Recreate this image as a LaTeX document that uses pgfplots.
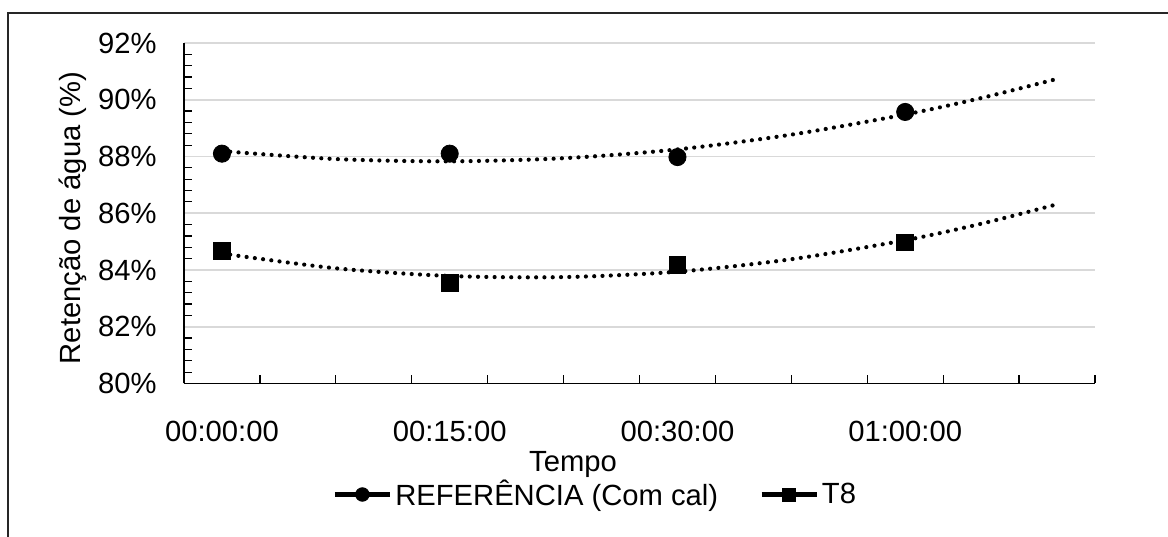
\documentclass[border=0pt]{standalone}
\usepackage{fontspec}
\setmainfont{Liberation Sans}
\usepackage{pgfplots}
\pgfplotsset{compat=1.18}
\definecolor{gridgray}{RGB}{217,217,217}
\newcommand{\chartfont}{\fontsize{14.6}{17.5}\selectfont}
\begin{document}
\begin{tikzpicture}[font=\chartfont]
\useasboundingbox (0,0) rectangle (584pt,268pt);
\draw[line width=0.8pt, black!85] (4pt,-10pt) -- (4pt,261.5pt) -- (600pt,261.5pt);
\begin{axis}[
  scale only axis,
  width=455.5pt, height=170.25pt,
  at={(92pt,76.25pt)}, anchor=south west,
  xmin=0, xmax=12, ymin=80, ymax=92,
  axis x line=bottom, axis y line=left,
  axis line style={-, line width=0.9pt, black},
  xtick={0.5,3.5,6.5,9.5},
  xticklabels={00:00:00,00:15:00,00:30:00,01:00:00},
  minor xtick={0,1,...,12},
  ytick={80,82,...,92},
  yticklabels={80\%,82\%,84\%,86\%,88\%,90\%,92\%},
  minor y tick num=4,
  tick align=inside,
  major tick length=0pt,
  minor tick length=4pt,
  every tick/.style={black, line width=0.6pt},
  ymajorgrids,
  major grid style={gridgray, line width=0.9pt},
  xticklabel style={font=\chartfont, inner sep=0pt, anchor=north, yshift=-18.5pt},
  yticklabel style={font=\chartfont, inner sep=0pt, anchor=east, xshift=-13.5pt},
  clip=false,
  legend style={at={(0.452,-0.326)}, anchor=center, draw=none, fill=none,
    font=\chartfont, inner sep=0pt,
    nodes={inner xsep=1.5pt, inner ysep=0pt},
    /tikz/every even column/.append style={column sep=19pt}},
  legend columns=2,
  legend cell align=left,
  legend image code/.code={\draw[mark repeat=2,mark phase=2,#1] plot coordinates {(0pt,0pt)(13.75pt,0pt)(27.5pt,0pt)};},
]
\addlegendimage{black, line width=2.4pt, mark=*, mark size=3.4pt, mark options={solid, line width=0.4pt}}
\addlegendentry{REFERÊNCIA (Com cal)}
\addlegendimage{black, line width=2.4pt, mark=square*, mark size=3.3pt, mark options={solid, line width=0.4pt}}
\addlegendentry{T8}
% trend lines (polynomial)
\addplot[black, line width=2.1pt, line cap=round, dash pattern=on 0pt off 4.15pt, smooth, forget plot] coordinates {
 (0.5,88.19) (2,87.91) (3.5,87.83) (5,87.94) (6.5,88.25) (8,88.77) (9.5,89.48) (10.5,90.06) (11.45,90.70)};
\addplot[black, line width=2.1pt, line cap=round, dash pattern=on 0pt off 4.15pt, smooth, forget plot] coordinates {
 (0.5,84.58) (2,84.06) (3.5,83.79) (5,83.75) (6.5,83.94) (8,84.38) (9.5,85.05) (10.5,85.63) (11.45,86.28)};
% data
\addplot[only marks, black, mark=*, mark size=4.3pt, forget plot] coordinates {
 (0.5,88.1) (3.5,88.1) (6.5,87.98) (9.5,89.57)};
\addplot[only marks, black, mark=square*, mark size=4.2pt, forget plot] coordinates {
 (0.5,84.66) (3.5,83.54) (6.5,84.19) (9.5,84.97)};
\end{axis}
\node[anchor=center] at (286.5pt,36pt) {Tempo};
\node[anchor=center, rotate=90] at (36.5pt,159pt) {Retenção de água (\%)};
\end{tikzpicture}
\end{document}
